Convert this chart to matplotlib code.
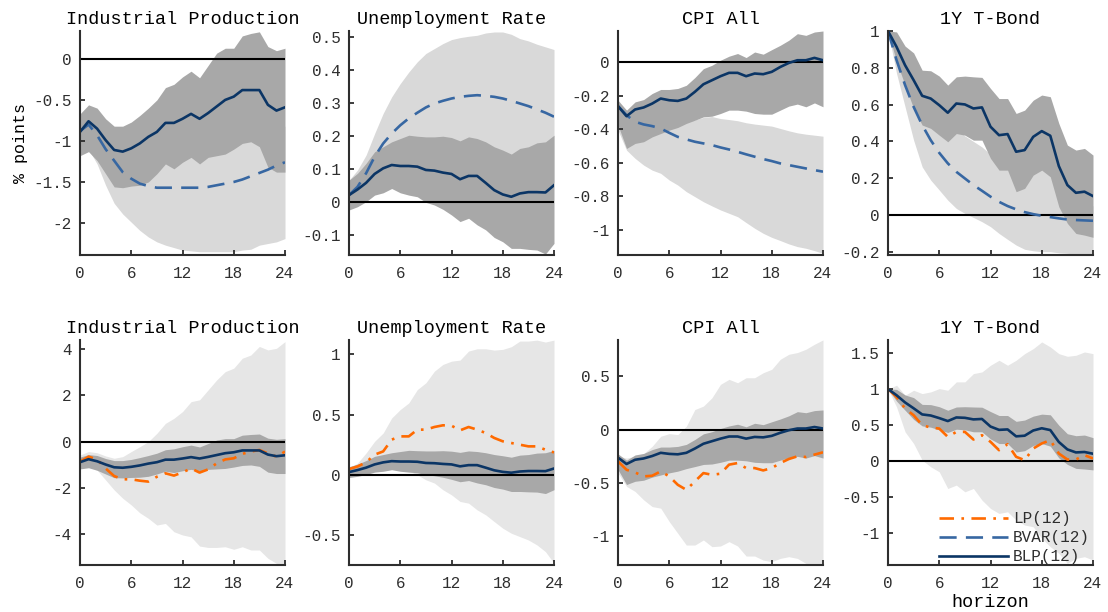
import matplotlib
matplotlib.use("Agg")
import matplotlib.pyplot as plt
from matplotlib.lines import Line2D
import numpy as np

NAVY = "#0b3565"
STEEL = "#3767a2"
ORANGE = "#ff6a00"
BAND_DARK = "#a8a8a8"
BAND_TOP = "#d9d9d9"
BAND_BOTTOM = "#e6e6e6"
INK = "#2e2e2e"

plt.rcParams.update({
    "font.family": ["Liberation Mono", "DejaVu Sans Mono"],
    "axes.unicode_minus": False,
    "text.color": INK,
    "axes.edgecolor": INK,
    "xtick.color": INK,
    "ytick.color": INK,
    "axes.spines.top": False,
    "axes.spines.right": False,
})

horizon = np.arange(25)
titles = ["Industrial Production", "Unemployment Rate", "CPI All", "1Y T-Bond"]

# Bayesian local projection (shared by both rows)
blp_ip = [-0.89, -0.76, -0.85, -0.99, -1.11, -1.13, -1.09, -1.03, -0.95, -0.89, -0.78, -0.78, -0.73,
          -0.67, -0.73, -0.66, -0.58, -0.50, -0.46, -0.38, -0.38, -0.38, -0.56, -0.63, -0.59]
blp_ip_hi = [-0.67, -0.56, -0.60, -0.73, -0.82, -0.82, -0.77, -0.69, -0.60, -0.50, -0.35, -0.31, -0.22,
             -0.15, -0.23, -0.08, 0.07, 0.13, 0.13, 0.28, 0.31, 0.33, 0.15, 0.10, 0.13]
blp_ip_lo = [-1.18, -1.13, -1.24, -1.40, -1.56, -1.57, -1.55, -1.54, -1.50, -1.40, -1.28, -1.34, -1.26,
             -1.20, -1.28, -1.20, -1.18, -1.16, -1.10, -1.03, -1.01, -1.07, -1.32, -1.38, -1.38]

blp_ur = [0.022, 0.039, 0.059, 0.086, 0.103, 0.113, 0.110, 0.110, 0.108, 0.098, 0.096, 0.090, 0.086,
          0.070, 0.080, 0.080, 0.059, 0.037, 0.024, 0.017, 0.027, 0.031, 0.031, 0.030, 0.052]
blp_ur_hi = [0.067, 0.088, 0.118, 0.153, 0.168, 0.183, 0.193, 0.203, 0.200, 0.198, 0.198, 0.200, 0.196,
             0.186, 0.198, 0.193, 0.183, 0.168, 0.158, 0.146, 0.163, 0.168, 0.180, 0.183, 0.203]
blp_ur_lo = [-0.023, -0.013, 0.002, 0.022, 0.029, 0.042, 0.029, 0.022, 0.017, 0.000, -0.008, -0.021, -0.038,
             -0.058, -0.048, -0.068, -0.083, -0.106, -0.119, -0.139, -0.139, -0.142, -0.144, -0.156, -0.124]

blp_cpi = [-0.263, -0.323, -0.283, -0.271, -0.248, -0.218, -0.228, -0.232, -0.218, -0.178, -0.133, -0.109, -0.085,
           -0.065, -0.065, -0.085, -0.069, -0.073, -0.059, -0.030, -0.006, 0.010, 0.010, 0.024, 0.010]
blp_cpi_hi = [-0.228, -0.287, -0.238, -0.224, -0.188, -0.164, -0.164, -0.158, -0.139, -0.093, -0.040, -0.020, 0.010,
              0.034, 0.050, 0.026, 0.059, 0.046, 0.073, 0.099, 0.129, 0.168, 0.158, 0.178, 0.184]
blp_cpi_lo = [-0.376, -0.515, -0.485, -0.475, -0.446, -0.426, -0.406, -0.390, -0.366, -0.347, -0.327, -0.323, -0.307,
              -0.287, -0.287, -0.293, -0.307, -0.311, -0.311, -0.287, -0.263, -0.251, -0.267, -0.244, -0.267]

blp_tb = [1.000, 0.914, 0.814, 0.733, 0.648, 0.633, 0.597, 0.556, 0.606, 0.601, 0.579, 0.585, 0.480,
          0.434, 0.440, 0.344, 0.353, 0.425, 0.456, 0.431, 0.266, 0.163, 0.121, 0.127, 0.103]
blp_tb_hi = [1.000, 0.995, 0.918, 0.881, 0.787, 0.784, 0.755, 0.706, 0.751, 0.755, 0.751, 0.748, 0.688,
             0.633, 0.633, 0.552, 0.570, 0.624, 0.652, 0.643, 0.498, 0.380, 0.353, 0.362, 0.326]
blp_tb_lo = [1.000, 0.833, 0.706, 0.579, 0.489, 0.471, 0.434, 0.398, 0.443, 0.434, 0.407, 0.407, 0.308,
             0.244, 0.244, 0.127, 0.145, 0.217, 0.244, 0.208, 0.045, -0.045, -0.100, -0.109, -0.121]

# BVAR(12)
bvar_ip = [-0.88, -0.80, -0.93, -1.10, -1.24, -1.38, -1.46, -1.52, -1.55, -1.57, -1.57, -1.57, -1.57,
           -1.57, -1.57, -1.56, -1.54, -1.52, -1.50, -1.47, -1.43, -1.39, -1.35, -1.30, -1.26]
bvar_ip_hi = [-0.70, -0.62, -0.70, -0.82, -0.92, -1.00, -1.05, -1.08, -1.10, -1.10, -1.10, -1.10, -1.10,
              -1.10, -1.09, -1.08, -1.06, -1.04, -1.02, -0.99, -0.96, -0.93, -0.90, -0.86, -0.82]
bvar_ip_lo = [-1.00, -1.10, -1.28, -1.54, -1.76, -1.89, -1.99, -2.09, -2.17, -2.23, -2.27, -2.30, -2.33,
              -2.34, -2.35, -2.35, -2.35, -2.35, -2.35, -2.33, -2.32, -2.27, -2.25, -2.23, -2.19]

bvar_ur = [0.022, 0.047, 0.088, 0.138, 0.178, 0.208, 0.233, 0.254, 0.271, 0.287, 0.299, 0.307, 0.314,
           0.319, 0.322, 0.324, 0.322, 0.319, 0.314, 0.307, 0.299, 0.291, 0.281, 0.271, 0.259]
bvar_ur_hi = [0.067, 0.098, 0.143, 0.208, 0.269, 0.319, 0.359, 0.394, 0.425, 0.450, 0.465, 0.480, 0.492,
              0.498, 0.502, 0.505, 0.512, 0.515, 0.515, 0.508, 0.495, 0.488, 0.478, 0.470, 0.462]
bvar_ur_lo = [0.000, 0.020, 0.050, 0.080, 0.100, 0.120, 0.130, 0.140, 0.150, 0.150, 0.150, 0.150, 0.150,
              0.150, 0.150, 0.140, 0.140, 0.130, 0.120, 0.110, 0.100, 0.090, 0.080, 0.070, 0.060]

bvar_cpi = [-0.263, -0.317, -0.356, -0.372, -0.382, -0.396, -0.422, -0.446, -0.461, -0.475, -0.485, -0.495, -0.509,
            -0.521, -0.535, -0.550, -0.564, -0.578, -0.590, -0.604, -0.614, -0.624, -0.634, -0.644, -0.653]
bvar_cpi_hi = [-0.240, -0.290, -0.300, -0.310, -0.320, -0.330, -0.340, -0.345, -0.345, -0.345, -0.330, -0.325, -0.337,
               -0.343, -0.350, -0.362, -0.370, -0.376, -0.382, -0.396, -0.410, -0.422, -0.430, -0.436, -0.442]
bvar_cpi_lo = [-0.406, -0.525, -0.574, -0.614, -0.644, -0.663, -0.703, -0.733, -0.772, -0.802, -0.832, -0.857, -0.881,
               -0.901, -0.921, -0.956, -0.990, -1.020, -1.044, -1.063, -1.083, -1.099, -1.109, -1.123, -1.139]

bvar_tb = [1.000, 0.842, 0.706, 0.588, 0.489, 0.407, 0.338, 0.281, 0.235, 0.199, 0.163, 0.132, 0.100,
           0.072, 0.049, 0.031, 0.016, 0.005, -0.004, -0.011, -0.018, -0.024, -0.027, -0.029, -0.031]
bvar_tb_hi = [1.000, 0.930, 0.850, 0.760, 0.680, 0.620, 0.560, 0.510, 0.470, 0.430, 0.400, 0.370, 0.330,
              0.290, 0.270, 0.240, 0.220, 0.230, 0.250, 0.220, 0.150, 0.100, 0.070, 0.060, 0.050]
bvar_tb_lo = [1.000, 0.770, 0.588, 0.407, 0.262, 0.190, 0.136, 0.081, 0.036, 0.009, -0.013, -0.036, -0.063,
              -0.100, -0.132, -0.163, -0.186, -0.194, -0.199, -0.199, -0.205, -0.208, -0.212, -0.212, -0.212]

# LP(12)
lp_ip = [-0.87, -0.65, -0.77, -1.16, -1.49, -1.63, -1.63, -1.69, -1.73, -1.52, -1.37, -1.47, -1.33,
         -1.16, -1.34, -1.20, -0.94, -0.77, -0.72, -0.53, -0.43, -0.36, -0.51, -0.65, -0.43]
lp_ip_hi = [-0.58, -0.43, -0.48, -0.62, -0.72, -0.65, -0.43, -0.22, 0.00, 0.36, 0.79, 1.01, 1.30,
            1.73, 1.81, 2.24, 2.67, 3.03, 3.18, 3.61, 3.75, 4.12, 3.97, 4.04, 4.33]
lp_ip_lo = [-1.16, -1.08, -1.23, -1.66, -2.09, -2.45, -2.74, -3.08, -3.32, -3.61, -3.54, -3.90, -4.04,
            -4.12, -4.52, -4.58, -4.58, -4.55, -4.66, -4.55, -4.69, -4.69, -5.05, -5.27, -5.27]

lp_ur = [0.047, 0.069, 0.103, 0.167, 0.194, 0.292, 0.319, 0.319, 0.375, 0.375, 0.397, 0.411, 0.408,
         0.369, 0.397, 0.375, 0.347, 0.306, 0.278, 0.264, 0.250, 0.236, 0.236, 0.208, 0.186]
lp_ur_hi = [0.056, 0.097, 0.181, 0.278, 0.347, 0.472, 0.542, 0.597, 0.708, 0.764, 0.861, 0.917, 0.944,
            0.953, 1.028, 1.047, 1.047, 1.036, 1.042, 1.064, 1.111, 1.111, 1.119, 1.103, 1.119]
lp_ur_lo = [-0.014, 0.008, 0.014, 0.030, 0.040, 0.045, 0.040, 0.030, 0.000, -0.042, -0.069, -0.125, -0.167,
            -0.222, -0.236, -0.292, -0.333, -0.389, -0.444, -0.486, -0.514, -0.542, -0.583, -0.639, -0.736]

lp_cpi = [-0.298, -0.377, -0.402, -0.439, -0.433, -0.392, -0.439, -0.518, -0.565, -0.486, -0.408, -0.424, -0.414,
          -0.329, -0.314, -0.361, -0.361, -0.383, -0.361, -0.314, -0.276, -0.251, -0.257, -0.235, -0.213]
lp_cpi_hi = [-0.251, -0.267, -0.251, -0.226, -0.157, -0.063, -0.038, -0.047, 0.031, 0.188, 0.220, 0.298, 0.424,
             0.471, 0.439, 0.486, 0.486, 0.533, 0.565, 0.659, 0.706, 0.722, 0.753, 0.800, 0.841]
lp_cpi_lo = [-0.408, -0.533, -0.580, -0.659, -0.722, -0.737, -0.863, -0.973, -1.083, -1.083, -1.035, -1.098, -1.092,
             -1.051, -1.092, -1.186, -1.186, -1.224, -1.239, -1.208, -1.192, -1.208, -1.255, -1.255, -1.255]

lp_tb = [1.000, 0.891, 0.729, 0.637, 0.499, 0.466, 0.452, 0.337, 0.406, 0.406, 0.300, 0.360, 0.268,
         0.152, 0.235, 0.060, 0.014, 0.175, 0.245, 0.291, 0.106, 0.023, 0.023, 0.083, 0.037]
lp_tb_hi = [1.000, 1.053, 0.914, 0.983, 0.937, 0.960, 1.006, 0.983, 1.099, 1.099, 1.214, 1.237, 1.330,
            1.399, 1.330, 1.399, 1.491, 1.560, 1.653, 1.584, 1.491, 1.454, 1.468, 1.514, 1.491]
lp_tb_lo = [1.000, 0.753, 0.406, 0.245, 0.014, -0.078, -0.148, -0.379, -0.332, -0.425, -0.379, -0.540, -0.656,
            -0.725, -0.702, -0.817, -0.886, -0.910, -1.071, -1.186, -1.279, -1.417, -1.348, -1.325, -1.371]

blp = [(blp_ip, blp_ip_lo, blp_ip_hi), (blp_ur, blp_ur_lo, blp_ur_hi),
       (blp_cpi, blp_cpi_lo, blp_cpi_hi), (blp_tb, blp_tb_lo, blp_tb_hi)]
bvar = [(bvar_ip, bvar_ip_lo, bvar_ip_hi), (bvar_ur, bvar_ur_lo, bvar_ur_hi),
        (bvar_cpi, bvar_cpi_lo, bvar_cpi_hi), (bvar_tb, bvar_tb_lo, bvar_tb_hi)]
lp = [(lp_ip, lp_ip_lo, lp_ip_hi), (lp_ur, lp_ur_lo, lp_ur_hi),
      (lp_cpi, lp_cpi_lo, lp_cpi_hi), (lp_tb, lp_tb_lo, lp_tb_hi)]

top_ylim = [(-2.39, 0.34), (-0.159, 0.518), (-1.149, 0.184), (-0.217, 1.0)]
top_yticks = [[-2, -1.5, -1, -0.5, 0], [-0.1, 0, 0.1, 0.2, 0.3, 0.4, 0.5],
              [-1, -0.8, -0.6, -0.4, -0.2, 0], [-0.2, 0, 0.2, 0.4, 0.6, 0.8, 1]]
bot_ylim = [(-5.34, 4.4), (-0.75, 1.12), (-1.27, 0.84), (-1.44, 1.68)]
bot_yticks = [[-4, -2, 0, 2, 4], [-0.5, 0, 0.5, 1], [-1, -0.5, 0, 0.5], [-1, -0.5, 0, 0.5, 1, 1.5]]

LW = 1.9
BVAR_DASH = (6.5, 3.5)
LP_DASH = (5.5, 2.8, 1.0, 2.8)

W, H = 1108, 612
fig = plt.figure(figsize=(W / 100, H / 100), dpi=100)
col_left = [80, 349, 618, 888]
ax_w = 205


def style_axes(ax, ylim, yticks, title):
    ax.set_xlim(0, 24)
    ax.set_ylim(*ylim)
    ax.set_xticks([0, 6, 12, 18, 24])
    ax.set_yticks(yticks)
    ax.set_yticklabels([f"{t:g}" for t in yticks])
    ax.tick_params(direction="in", length=3.5, width=1.3, labelsize=11.5)
    ax.tick_params(axis="x", pad=8)
    ax.tick_params(axis="y", pad=6)
    for s in ("left", "bottom"):
        ax.spines[s].set_linewidth(1.5)
    ax.set_title(title, fontsize=13.3, pad=5, color="black")


for i in range(4):
    # top row: BVAR band vs BLP band
    ax = fig.add_axes([col_left[i] / W, 1 - 255 / H, ax_w / W, 224 / H])
    y, lo, hi = bvar[i]
    ax.fill_between(horizon, lo, hi, color=BAND_TOP, linewidth=0)
    b, blo, bhi = blp[i]
    ax.fill_between(horizon, blo, bhi, color=BAND_DARK, linewidth=0)
    ax.axhline(0, color="black", linewidth=1.5)
    ax.plot(horizon, y, color=STEEL, linewidth=LW, dashes=BVAR_DASH)
    ax.plot(horizon, b, color=NAVY, linewidth=LW, solid_joinstyle="round")
    style_axes(ax, top_ylim[i], top_yticks[i], titles[i])
    if i == 0:
        ax.set_ylabel("% points", fontsize=12, labelpad=4)

    # bottom row: LP band vs BLP band
    ax = fig.add_axes([col_left[i] / W, 1 - 565 / H, ax_w / W, 225 / H])
    y, lo, hi = lp[i]
    ax.fill_between(horizon, lo, hi, color=BAND_BOTTOM, linewidth=0)
    ax.fill_between(horizon, blo, bhi, color=BAND_DARK, linewidth=0)
    ax.axhline(0, color="black", linewidth=1.5)
    ax.plot(horizon, y, color=ORANGE, linewidth=LW, dashes=LP_DASH)
    ax.plot(horizon, b, color=NAVY, linewidth=LW, solid_joinstyle="round")
    style_axes(ax, bot_ylim[i], bot_yticks[i], titles[i])

    if i == 3:
        ax.set_xlabel("horizon", fontsize=13.3, labelpad=2)
        handles = [
            Line2D([], [], color=ORANGE, linewidth=LW, dashes=LP_DASH),
            Line2D([], [], color=STEEL, linewidth=LW, dashes=BVAR_DASH),
            Line2D([], [], color=NAVY, linewidth=LW),
        ]
        ax.legend(handles, ["LP(12)", "BVAR(12)", "BLP(12)"], loc="lower left",
                  bbox_to_anchor=(0.22, -0.025), frameon=False, fontsize=11.5,
                  handlelength=4.3, handletextpad=0.3, labelspacing=0.25,
                  borderaxespad=0.2, borderpad=0.2)

fig.savefig("out.png", dpi=100)
